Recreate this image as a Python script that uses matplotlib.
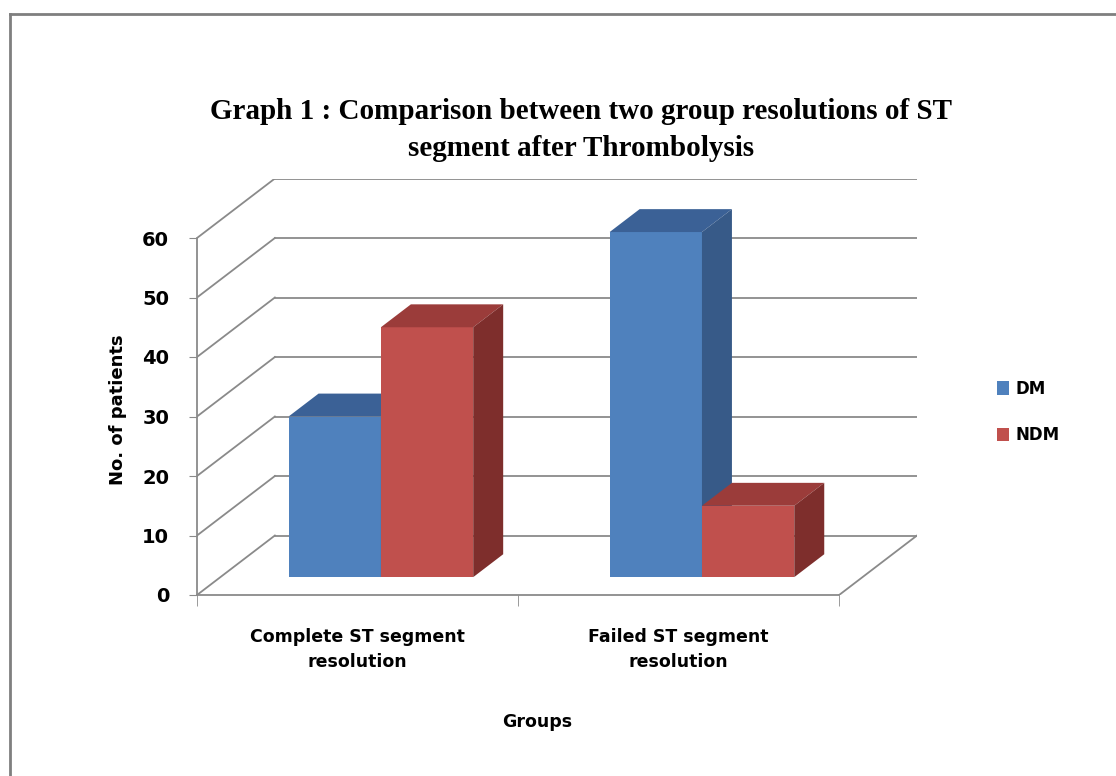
import matplotlib
matplotlib.use("Agg")
import matplotlib.pyplot as plt
from matplotlib.patches import Polygon, Patch
from matplotlib.lines import Line2D

# data
categories = ["Complete ST segment\nresolution", "Failed ST segment\nresolution"]
series = ["DM", "NDM"]
dm_values = [27, 58]
ndm_values = [42, 12]
yticks = [0, 10, 20, 30, 40, 50, 60]

# colours (front, top, side) like the Excel 3D style
colors = {
    "DM": ("#4f81bd", "#3b6196", "#375a88"),
    "NDM": ("#c0504d", "#9b3c3a", "#7e2e2c"),
}
grid_col = "#8a8a8a"

W, H = 1116, 776
fig = plt.figure(figsize=(W / 100, H / 100), dpi=100)

# depth of the 3D box in data units (oblique projection)
DX, DY = 0.2426, 10.0
bar_w = 0.2875
bar_z0, bar_depth = 0.30, 0.385   # fraction of the box depth

# plot area in pixels: front axis x=197, back right 917, y0 at 595, px/unit 5.95
left_px, right_px, base_px = 197, 917, 595
top_px = base_px - (max(yticks) + DY) * 5.95
ax = fig.add_axes([left_px / W, (H - base_px) / H,
                   (right_px - left_px) / W, (base_px - top_px) / H])
ax.set_xlim(0, len(categories) + DX)
ax.set_ylim(0, max(yticks) + DY)

# back wall grid lines and left side-wall diagonals
n = len(categories)
for v in yticks:
    ax.plot([DX, n + DX], [v + DY, v + DY], color=grid_col, lw=1.3, zorder=1)
    ax.plot([0, DX], [v, v + DY], color=grid_col, lw=1.3, zorder=1)
ax.plot([n, n + DX], [0, DY], color=grid_col, lw=1.3, zorder=1)

# bars
for i in range(n):
    vals = [dm_values[i], ndm_values[i]]
    for j, name in enumerate(series):
        front, top, side = colors[name]
        x0 = i + 0.5 - bar_w + j * bar_w + bar_z0 * DX
        b = bar_z0 * DY
        v = vals[j]
        dx, dy = bar_depth * DX, bar_depth * DY
        ax.bar(x0, v, width=bar_w, bottom=b, align="edge", color=front,
               edgecolor="none", zorder=3 + j)
        x1 = x0 + bar_w
        ax.add_patch(Polygon([(x0, b + v), (x1, b + v), (x1 + dx, b + v + dy),
                              (x0 + dx, b + v + dy)], closed=True,
                             facecolor=top, edgecolor="none", zorder=3 + j))
        ax.add_patch(Polygon([(x1, b), (x1 + dx, b + dy), (x1 + dx, b + v + dy),
                              (x1, b + v)], closed=True,
                             facecolor=side, edgecolor="none", zorder=3 + j))

# axes styling
for s in ["top", "right"]:
    ax.spines[s].set_visible(False)
ax.spines["left"].set_bounds(0, max(yticks))
ax.spines["bottom"].set_bounds(0, n)
ax.spines["left"].set_color(grid_col)
ax.spines["bottom"].set_color(grid_col)
ax.spines["left"].set_linewidth(1.3)
ax.spines["bottom"].set_linewidth(1.3)

ax.set_yticks(yticks)
ax.set_yticklabels([str(t) for t in yticks], fontsize=14, fontweight="bold",
                   family="DejaVu Sans")
ax.tick_params(axis="y", length=6, color=grid_col, pad=14)

ax.set_xticks([i + 0.5 for i in range(n)])
ax.set_xticklabels(categories, fontsize=12.5, fontweight="bold",
                   family="DejaVu Sans", linespacing=1.5)
ax.tick_params(axis="x", length=0, pad=24)
ax.set_xticks(list(range(n + 1)), minor=True)
ax.tick_params(axis="x", which="minor", length=8, color=grid_col)

# titles and labels
fig.text(581 / W, 1 - 130 / H,
         "Graph 1 : Comparison between two group resolutions of ST\nsegment after Thrombolysis",
         ha="center", va="center", fontsize=21, fontweight="bold",
         family="Liberation Serif", linespacing=1.5)
fig.text(118 / W, 1 - 410 / H, "No. of patients", rotation=90, ha="center",
         va="center", fontsize=13, fontweight="bold", family="DejaVu Sans")
fig.text(537 / W, 1 - 722 / H, "Groups", ha="center", va="center",
         fontsize=12.5, fontweight="bold", family="DejaVu Sans")

# legend
handles = [Patch(facecolor=colors[s][0], edgecolor="none") for s in series]
fig.legend(handles, series, loc="center left",
           bbox_to_anchor=(982 / W, 1 - 412 / H), frameon=False,
           prop={"weight": "bold", "size": 12, "family": "DejaVu Sans"},
           handlelength=0.7, handleheight=0.9, handletextpad=0.4,
           labelspacing=1.7)

# outer frame (only left and top edges show in the crop)
fig.add_artist(Line2D([10 / W, 10 / W], [0, 1 - 14 / H], transform=fig.transFigure,
                      color="#7f7f7f", lw=2))
fig.add_artist(Line2D([10 / W, 1], [1 - 14 / H, 1 - 14 / H], transform=fig.transFigure,
                      color="#7f7f7f", lw=2))

fig.savefig("out.png", dpi=100, facecolor="white")
